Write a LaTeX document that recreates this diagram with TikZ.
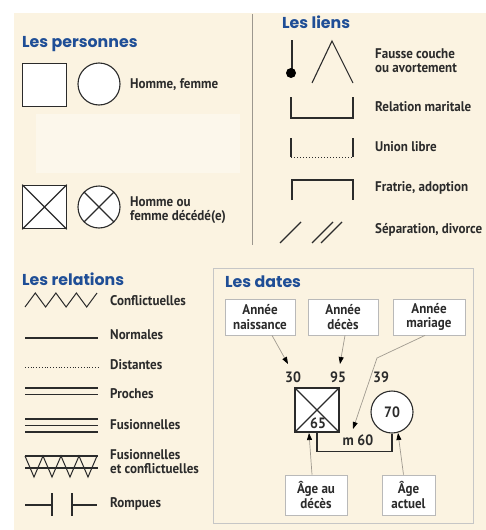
\documentclass[tikz,border=0pt]{standalone}
\usepackage{fontspec}
\setmainfont{PT Sans}
\newfontfamily\labfont[FakeStretch=0.93,BoldFont={PT Sans Bold},BoldFeatures={FakeStretch=0.93}]{PT Sans}
\newfontfamily\titfont[BoldFont={Poppins Bold}]{Poppins}
\usetikzlibrary{arrows.meta}
\definecolor{cream}{HTML}{FBF3E1}
\definecolor{creamlight}{HTML}{FCF7EB}
\definecolor{ttl}{HTML}{1F4E96}
\definecolor{ink}{HTML}{2B2B2B}
\definecolor{sep}{HTML}{9C978E}
\definecolor{arr}{HTML}{A09A90}
\begin{document}
\begin{tikzpicture}[x=1pt,y=-1pt,
  title/.style={anchor=west,inner sep=0pt,text=ttl,font=\titfont\bfseries\fontsize{15.8}{16}\selectfont},
  lab/.style={anchor=west,inner sep=0pt,text=ink,align=left,font=\labfont\bfseries\fontsize{14}{14}\selectfont},
  num/.style={inner sep=0pt,text=ink,font=\labfont\bfseries\fontsize{15}{15}\selectfont},
  sym/.style={draw=ink,line width=1.1pt},
  sqr/.style={draw=ink,line width=1.1pt,fill=white,minimum size=43.5pt,inner sep=0pt},
  crc/.style={circle,draw=ink,line width=1.1pt,fill=white,minimum size=42pt,inner sep=0pt},
  infobox/.style={draw=gray!55,line width=0.8pt,fill=white,inner sep=0pt,align=center,text=ink,font=\labfont\bfseries\fontsize{14}{14.5}\selectfont},
  arrline/.style={draw=arr,line width=0.7pt,-{Triangle[length=7pt,width=5pt,fill=black,color=black]}}
]
\useasboundingbox (0,0) rectangle (486,530);
\fill[white] (0,0) rectangle (486,530);
\fill[cream] (14,13) rectangle (486,530);
\fill[creamlight] (36,114) rectangle (240,173);

% separator
\draw[sep,line width=0.9pt] (252,14) -- (252,245);

% ---------- Les personnes ----------
\node[title] (tp) at (22,44) {Les personnes};
\node[sqr] (h1) at (44.5,85) {};
\node[crc] (f1) at (99,84) {};
\node[lab] (l1) at (130,85) {Homme, femme};
\node[sqr] (h2) at (44.5,207) {};
\draw[sym] (h2.north west) -- (h2.south east) (h2.north east) -- (h2.south west);
\node[crc] (f2) at (99,207) {};
\draw[sym] (f2.north west) -- (f2.south east) (f2.north east) -- (f2.south west);
\node[lab] (l2) at (130,210) {Homme ou\\femme décédé(e)};

% ---------- Les liens ----------
\node[title] (tl) at (282,22) {Les liens};
\draw[sym] (292,40) -- (292,70);
\fill[black] (291,73) circle (5);
\draw[sym] (312,83) -- (332,41) -- (353,83);
\node[lab] (l3) at (375,61) {Fausse couche\\ou avortement};
\draw[sym] (291,97) -- (291,118) -- (353,118) -- (353,97);
\node[lab] (l4) at (375,107) {Relation maritale};
\draw[sym] (291,138) -- (291,157);
\draw[sym] (353,138) -- (353,157);
\draw[draw=ink,line width=1pt,dotted] (291,157) -- (353,157);
\node[lab] (l5) at (375,147) {Union libre};
\draw[sym] (292,200) -- (292,180) -- (353,180) -- (353,200);
\node[lab] (l6) at (375,188) {Fratrie, adoption};
\draw[sym] (280,243) -- (301,222);
\draw[sym] (312,243) -- (333,222);
\draw[sym] (321,243) -- (342,222);
\node[lab] (l7) at (375,230) {Séparation, divorce};

% ---------- Les relations ----------
\node[title] (tr) at (22,279) {Les relations};
\draw[sym,line width=1pt] (25,307) -- (35.3,293) -- (45.6,307) -- (55.9,293) -- (66.1,307) -- (76.4,293) -- (86.7,307) -- (97,293);
\node[lab] (r1) at (110,301) {Conflictuelles};
\draw[sym] (25,338) -- (98,338);
\node[lab] (r2) at (110,335) {Normales};
\draw[draw=ink,line width=0.8pt,dotted] (25,367) -- (98,367);
\node[lab] (r3) at (110,365) {Distantes};
\draw[sym] (25,388) -- (98,388) (25,394.5) -- (98,394.5);
\node[lab] (r4) at (110,394) {Proches};
\draw[sym] (25,419) -- (98,419) (25,425.5) -- (98,425.5) (25,432) -- (98,432);
\node[lab] (r5) at (110,425) {Fusionnelles};
\draw[sym] (25,456) -- (98,456) (25,468) -- (98,468);
\draw[sym,line width=1pt] (25,456) -- (34,477) -- (43,456) -- (52,477) -- (61,456) -- (70,477) -- (79,456) -- (88,477) -- (97,456);
\node[lab] (r6) at (110,462) {Fusionnelles\\et conflictuelles};
\draw[sym] (25,505) -- (52,505) (52,493) -- (52,516);
\draw[sym] (72,505) -- (97,505) (72,493) -- (72,516);
\node[lab] (r7) at (110,504) {Rompues};

% ---------- Les dates ----------
\draw[draw=gray!45,line width=1pt] (213,268) rectangle (473,523);
\node[title] (td) at (225,282) {Les dates};
\node[infobox,minimum width=70pt,minimum height=36pt] (bn) at (260,317) {Année\\naissance};
\node[infobox,minimum width=70pt,minimum height=36pt] (bd) at (343,317) {Année\\décès};
\node[infobox,minimum width=72pt,minimum height=36pt] (bm) at (429,317) {Année\\mariage};
\node[infobox,minimum width=62pt,minimum height=40pt] (ba) at (316,495) {Âge au\\décès};
\node[infobox,minimum width=53pt,minimum height=40pt] (bc) at (408.5,495) {Âge\\actuel};

\node[num] (n30) at (293,377) {30};
\node[num] (n95) at (338,377) {95};
\node[num] (n39) at (381,377) {39};

\node[sqr,minimum size=44pt] (ds) at (317,410) {};
\draw[sym] (ds.north west) -- (ds.south east) (ds.north east) -- (ds.south west);
\node[num] (n65) at (318,423) {65};
\node[crc,minimum size=42pt] (dc) at (392,412) {};
\node[num] (n70) at (dc.center) {70};
\draw[sym] (ds.south) -- ++(0,19) -| (dc.south);
\node[num] (m60) at (358,440) {m 60};

\coordinate (e1) at (288,364);
\coordinate (e2) at (340,364);
\coordinate (bend) at (377,358);
\coordinate (e3) at (353,429);
\coordinate (e4) at (309,433);
\coordinate (e5) at (398,433);
\draw[arrline] ([xshift=12pt]bn.south) -- (e1);
\draw[arrline] ([xshift=2pt]bd.south) -- (e2);
\draw[arrline] ([xshift=-4pt]bm.south) -- (bend) -- (e3);
\draw[arrline] ([xshift=-4pt]ba.north) -- (e4);
\draw[arrline] ([xshift=-5pt]bc.north) -- (e5);
\end{tikzpicture}
\end{document}
